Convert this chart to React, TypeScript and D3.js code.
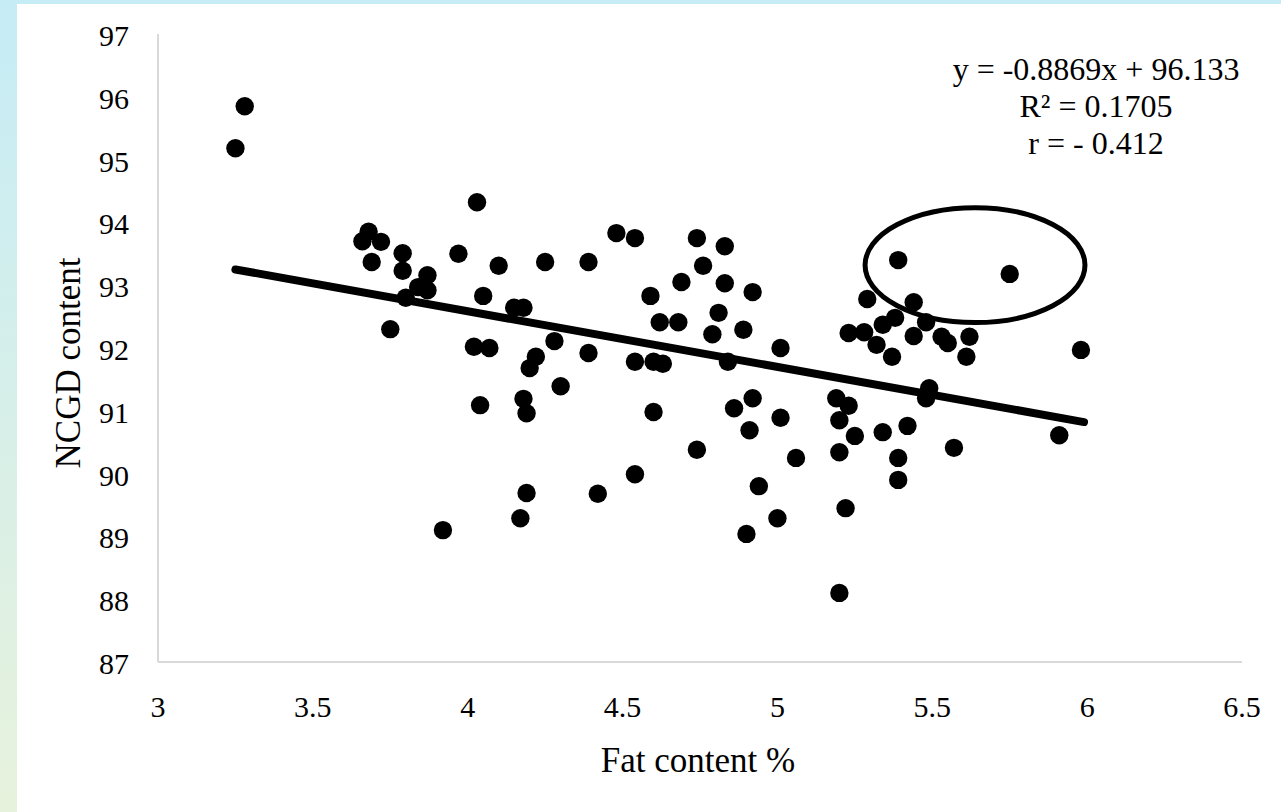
import React from "react";
import * as d3 from "d3";

// Fat content % vs NCGD content
const fat = [
  3.25, 3.28, 4.03, 3.68, 3.66, 3.72, 3.79, 3.69, 3.79, 3.87, 3.97, 4.10, 3.84, 3.87, 3.80, 4.05,
  4.15, 4.18, 3.75, 4.02, 4.07, 4.20, 4.22, 4.25, 4.39, 4.48, 4.54, 4.74, 4.83, 4.76, 4.69, 4.83,
  4.92, 4.59, 4.62, 4.68, 4.81, 4.79, 4.89, 5.01, 4.28, 4.39, 4.54, 4.60, 4.63, 4.84, 4.30, 4.18,
  4.19, 4.60, 4.86, 4.92, 5.01, 4.91, 4.74, 5.06, 5.19, 5.23, 5.20, 5.25, 5.34, 5.20, 4.19, 4.17,
  4.42, 4.54, 4.94, 5.00, 4.90, 5.22, 5.20, 5.23, 5.29, 5.28, 5.32, 5.34, 5.39, 5.37, 5.39, 5.39,
  5.75, 5.44, 5.38, 5.48, 5.44, 5.53, 5.55, 5.62, 5.61, 5.98, 5.49, 5.48, 5.42, 5.91, 5.57, 4.04,
  3.92,
];
const ncgd = [
  95.18, 95.85, 94.32, 93.85, 93.70, 93.69, 93.51, 93.37, 93.23, 93.16, 93.50, 93.31, 92.97, 92.92, 92.80, 92.83,
  92.64, 92.64, 92.30, 92.02, 92.00, 91.68, 91.86, 93.37, 93.37, 93.83, 93.75, 93.75, 93.62, 93.31, 93.05, 93.03,
  92.89, 92.83, 92.41, 92.41, 92.56, 92.22, 92.29, 92.00, 92.11, 91.92, 91.78, 91.78, 91.75, 91.78, 91.39, 91.19,
  90.96, 90.98, 91.04, 91.20, 90.89, 90.69, 90.38, 90.25, 91.20, 91.08, 90.85, 90.60, 90.66, 90.34, 89.69, 89.29,
  89.68, 89.99, 89.80, 89.29, 89.04, 89.45, 88.10, 92.24, 92.78, 92.25, 92.05, 92.37, 93.40, 91.86, 90.25, 89.90,
  93.18, 92.73, 92.48, 92.41, 92.19, 92.18, 92.08, 92.18, 91.86, 91.97, 91.36, 91.20, 90.76, 90.61, 90.41, 91.09,
  89.10,
];

const xTicks = [3, 3.5, 4, 4.5, 5, 5.5, 6, 6.5];
const yTicks = [87, 88, 89, 90, 91, 92, 93, 94, 95, 96, 97];

const slope = -0.8869;
const intercept = 96.133;
const trendRange = [3.25, 5.99];
const equationLines = ["y = -0.8869x + 96.133", "R² = 0.1705", "r = - 0.412"];

// highlighted group (ellipse) in data units
const ringCenter = { x: 5.638, y: 93.32 };
const ringRadius = { x: 0.355, y: 0.915 };

const W = 1281;
const H = 812;
const font = "'Liberation Serif', 'Times New Roman', serif";

export default function App() {
  const x = d3.scaleLinear().domain([3, 6.5]).range([158, 1242]);
  const y = d3.scaleLinear().domain([87, 97]).range([662, 34]);

  const trendLine = d3
    .line<number>()
    .x((d) => x(d))
    .y((d) => y(slope * d + intercept));

  const points = fat.map((f, i) => ({ f, v: ncgd[i] }));

  return (
    <svg
      width={W}
      height={H}
      style={{ position: "absolute", left: 0, top: 0, display: "block" }}
      fontFamily={font}
    >
      <defs>
        <linearGradient id="edge" x1="0" y1="0" x2="0" y2="1">
          <stop offset="0%" stopColor="#c6ecf6" />
          <stop offset="100%" stopColor="#e7f2dc" />
        </linearGradient>
      </defs>
      <rect width={W} height={H} fill="url(#edge)" />
      <rect x={17} y={4} width={W - 17} height={H - 4} fill="#ffffff" />

      {/* axes */}
      <line x1={x(3)} x2={x(3)} y1={y(97)} y2={y(87)} stroke="#d9d9d9" strokeWidth={2} />
      <line x1={x(3)} x2={x(6.5)} y1={y(87)} y2={y(87)} stroke="#d9d9d9" strokeWidth={2} />

      {yTicks.map((t) => (
        <text key={t} x={129} y={y(t) + 12} textAnchor="end" fontSize={30} fill="#000">
          {t}
        </text>
      ))}
      {xTicks.map((t) => (
        <text key={t} x={x(t)} y={y(87) + 55} textAnchor="middle" fontSize={30} fill="#000">
          {t}
        </text>
      ))}

      <text
        transform={`translate(80,363) rotate(-90)`}
        textAnchor="middle"
        fontSize={35}
        fill="#000"
      >
        NCGD content
      </text>
      <text x={698} y={772} textAnchor="middle" fontSize={35} fill="#000">
        Fat content %
      </text>

      {/* points */}
      {points.map((p, i) => (
        <circle key={i} cx={x(p.f)} cy={y(p.v)} r={9.2} fill="#000" />
      ))}

      {/* trend line */}
      <path d={trendLine(trendRange) || ""} stroke="#000" strokeWidth={8} strokeLinecap="round" fill="none" />

      {/* ellipse */}
      <ellipse
        cx={x(ringCenter.x)}
        cy={y(ringCenter.y)}
        rx={x(ringCenter.x + ringRadius.x) - x(ringCenter.x)}
        ry={y(ringCenter.y) - y(ringCenter.y + ringRadius.y)}
        fill="none"
        stroke="#000"
        strokeWidth={5}
      />

      {/* equation */}
      {equationLines.map((s, i) => (
        <text key={s} x={1096} y={80 + i * 37} textAnchor="middle" fontSize={32} fill="#000">
          {s}
        </text>
      ))}
    </svg>
  );
}
